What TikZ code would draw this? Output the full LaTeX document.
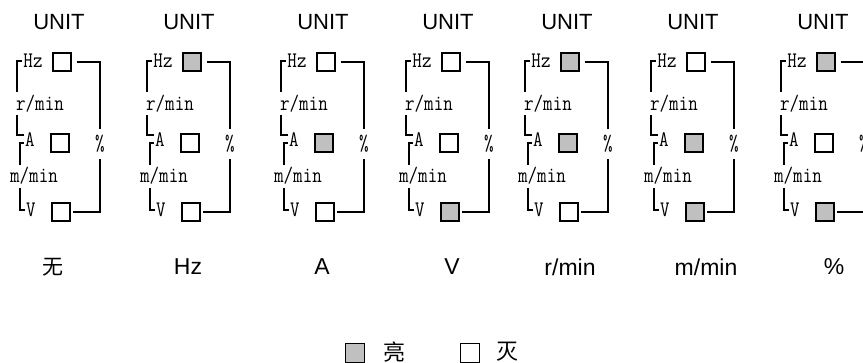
\documentclass[tikz,border=0pt]{standalone}
\usepackage{fontspec}
\setmainfont{Liberation Sans}
\newfontfamily\cjk{Noto Sans CJK SC}
\usepackage{graphicx}
\usepackage{tikz}
\usetikzlibrary{positioning}
\definecolor{litgray}{RGB}{192,192,192}
\newcommand{\tall}[1]{\scalebox{1}[1.2]{#1}}

\tikzset{
  title/.style={font=\fontsize{22}{22}\selectfont, inner sep=0pt},
  caption/.style={font=\fontsize{23}{23}\selectfont, inner sep=0pt},
  lbl/.style={font=\ttfamily\fontsize{18.5}{18.5}\selectfont, inner sep=1pt},
  lamp/.style={draw, minimum size=18pt, inner sep=0pt},
}

\begin{document}
\begin{tikzpicture}[x=1pt,y=-1pt,line width=1.1pt]
        \useasboundingbox (0,0) rectangle (863,363);
        \clip (0,0) rectangle (863,363);
        %% one panel per unit
        \foreach \o/\h/\a/\v [count=\i] in {0/white/white/white, 130/litgray/white/white,
            264/white/litgray/white, 389/white/white/litgray, 508/litgray/litgray/white,
            634/white/litgray/litgray, 764/litgray/white/litgray}{
        \begin{scope}[shift={(\o,0)}]
          \node[title] (unit\i) at (59,22) {UNIT};
          \node[lbl] (hz\i) at (33,61) {\tall{Hz}};
          \node[lamp,fill=\h] (hzlamp\i) at (62,62) {};
          \node[lbl] (rmin\i) at (40,104) {\tall{r/min}};
          \node[lbl] (a\i) at (30,140) {\tall{A}};
          \node[lamp,fill=\a] (alamp\i) at (60,143) {};
          \node[lbl] (mmin\i) at (34,176) {\tall{m/min}};
          \node[lbl] (v\i) at (31,210) {\tall{V}};
          \node[lamp,fill=\v] (vlamp\i) at (61,212) {};
          \node[lbl,minimum height=29pt] (pct\i) at (100,144) {\tall{\%}};
          \draw[shorten <=5pt] (hzlamp\i.east) -| (pct\i.north);
          \draw[shorten >=2pt] (pct\i.south) |- (vlamp\i.east);
          \draw (hz\i.west) -| (17,92);
          \draw (17,115) |- ([yshift=5pt]a\i.west);
          \draw ([yshift=-3pt]a\i.west) -| (20,165);
          \draw (20,188) |- (v\i.west);
        \end{scope}
        }
        %% what each panel shows
        \node[caption,font=\cjk\fontsize{21}{21}\selectfont] (none) at (53,267) {无};
        \node[caption] (shz) at (188,267) {Hz};
        \node[caption] (sa) at (322,267) {A};
        \node[caption] (sv) at (452,267) {V};
        \node[caption] (srmin) at (570,267) {r/min};
        \node[caption] (smmin) at (706,267) {m/min};
        \node[caption] (spct) at (834,267) {\%};
        %% legend
        \node[lamp,fill=litgray,minimum size=19pt] (on) at (355,353) {};
        \node[caption,font=\cjk\fontsize{22}{22}\selectfont] (ontext) at (394,352) {亮};
        \node[lamp,fill=white,minimum size=19pt] (off) at (470,353) {};
        \node[caption,font=\cjk\fontsize{22}{22}\selectfont] (offtext) at (507,352) {灭};
    \end{tikzpicture}
\end{document}
